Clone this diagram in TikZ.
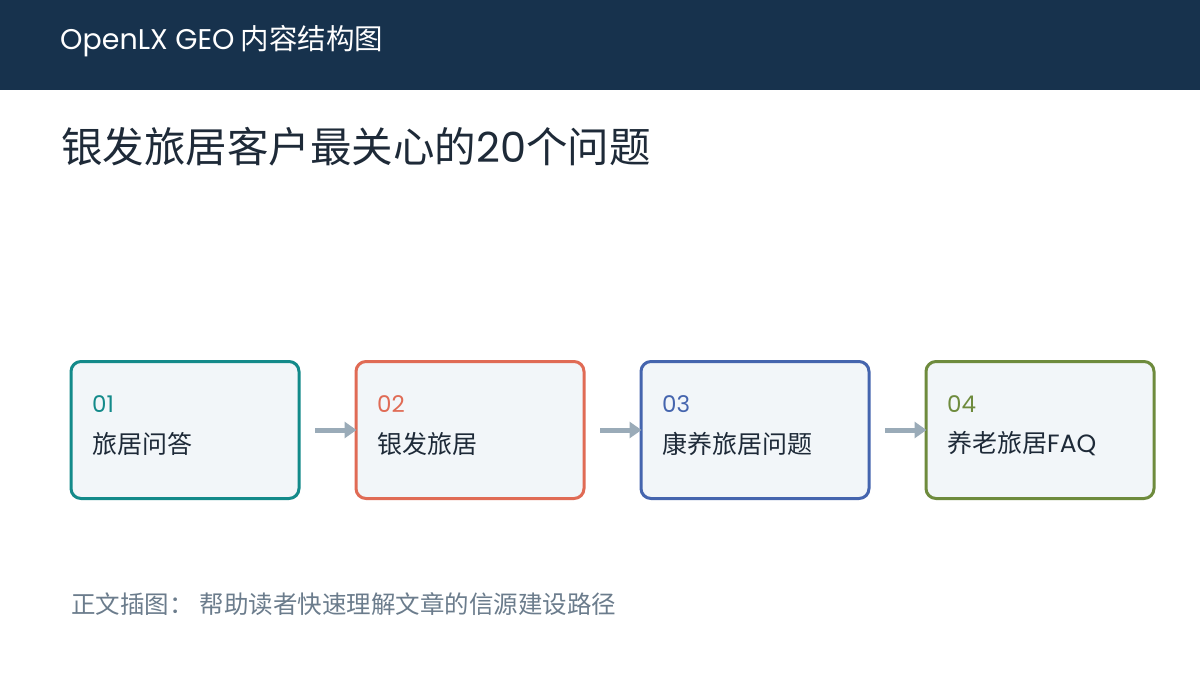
\documentclass[tikz,border=0pt]{standalone}
\usepackage{fontspec}
\setmainfont{Noto Sans CJK SC}
\newfontfamily\lat{Poppins}
\usetikzlibrary{arrows.meta}
\definecolor{hdr}{HTML}{17324D}
\definecolor{ink}{HTML}{1E2A38}
\definecolor{boxfill}{HTML}{F2F6F9}
\definecolor{cA}{HTML}{138A8A}
\definecolor{cB}{HTML}{E06B55}
\definecolor{cC}{HTML}{4565AE}
\definecolor{cD}{HTML}{6E8B3D}
\definecolor{arr}{HTML}{9AABB8}
\definecolor{cap}{HTML}{6B7C8C}
\tikzset{
  stepbox/.style={draw=#1, line width=3pt, fill=boxfill, rounded corners=10pt,
    minimum width=228pt, minimum height=137pt, inner sep=0pt},
  numtxt/.style={anchor=west, inner sep=0pt, text=#1, font=\lat\fontsize{23}{26}\selectfont},
  lbltxt/.style={anchor=west, inner sep=0pt, text=ink, font=\fontsize{25}{28}\selectfont},
  flow/.style={draw=arr, line width=5pt, -{Triangle[length=12pt,width=16pt]}, shorten >=-2pt}
}
\begin{document}
\begin{tikzpicture}[x=1pt,y=-1pt]
\useasboundingbox (0,0) rectangle (1200,675);
\fill[white] (0,0) rectangle (1200,675);
\fill[hdr] (0,0) rectangle (1200,90);
\node[anchor=west, inner sep=0pt, text=white, font=\fontsize{28.5}{32}\selectfont] (hd) at (60,41) {{\lat OpenLX GEO} 内容结构图};
\node[anchor=west, inner sep=0pt, text=ink, font=\fontsize{41.5}{48}\selectfont] (tt) at (61,147) {银发旅居客户最关心的{\lat 20}个问题};

\node[stepbox=cA] (b1) at (185,430) {};
\node[stepbox=cB] (b2) at (470,430) {};
\node[stepbox=cC] (b3) at (755,430) {};
\node[stepbox=cD] (b4) at (1040,430) {};

\node[numtxt=cA] (n1) at (92,404) {01};
\node[lbltxt] (l1) at (92,444) {旅居问答};
\node[numtxt=cB] (n2) at (377,404) {02};
\node[lbltxt] (l2) at (377,444) {银发旅居};
\node[numtxt=cC] (n3) at (662,404) {03};
\node[lbltxt] (l3) at (662,444) {康养旅居问题};
\node[numtxt=cD] (n4) at (947,404) {04};
\node[lbltxt] (l4) at (947,444) {养老旅居{\lat FAQ}};

\coordinate (s1) at (315,430);
\coordinate (s2) at (600,430);
\coordinate (s3) at (885,430);
\draw[flow] (s1) -- (b2.west);
\draw[flow] (s2) -- (b3.west);
\draw[flow] (s3) -- (b4.west);

\node[anchor=west, inner sep=0pt, text=cap, font=\fontsize{24.5}{28}\selectfont] (cp) at (71,604) {正文插图：\hspace{6pt}帮助读者快速理解文章的信源建设路径};
\end{tikzpicture}
\end{document}
